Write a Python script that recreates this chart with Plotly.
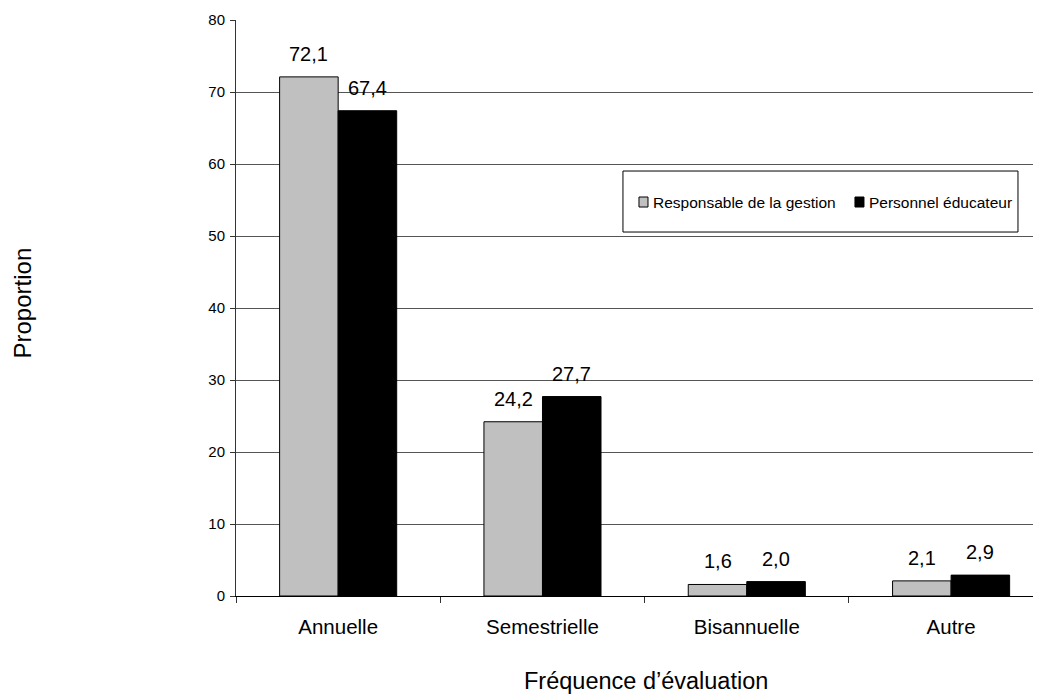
import plotly.graph_objects as go

categories = ['Annuelle', 'Semestrielle', 'Bisannuelle', 'Autre']
gestion = [72.1, 24.2, 1.6, 2.1]
educateur = [67.4, 27.7, 2.0, 2.9]
series_names = ['Responsable de la gestion', 'Personnel éducateur']
series_colors = ['#C0C0C0', '#000000']

font = 'Liberation Sans, Arial, sans-serif'
bargap = 0.427
half = (1 - bargap) / 4   # offset of each bar centre from the category centre


def fmt(v):
    return f'{v:.1f}'.replace('.', ',')


fig = go.Figure()
for name, vals, col in zip(series_names, [gestion, educateur], series_colors):
    fig.add_trace(go.Bar(
        x=categories, y=vals, name=name,
        marker=dict(color=col, line=dict(color='black', width=1))))

# value labels above the bars
annotations = []
for k, vals in enumerate([gestion, educateur]):
    for i, v in enumerate(vals):
        annotations.append(dict(
            x=i + (2 * k - 1) * half, y=v, xref='x', yref='y',
            text=fmt(v), showarrow=False, yanchor='bottom', yshift=10,
            font=dict(size=20, color='black')))

# hand-drawn legend box to match the original spacing
shapes = [dict(type='rect', xref='paper', yref='paper',
               x0=0.4807, x1=0.9714, y0=0.6319, y1=0.7378,
               line=dict(color='black', width=1), fillcolor='white', layer='below')]
legend_x = [0.5006, 0.7689]
for name, col, lx in zip(series_names, series_colors, legend_x):
    shapes.append(dict(type='rect', xref='paper', yref='paper',
                       x0=lx, x1=lx + 0.0112, y0=0.6753, y1=0.6927,
                       line=dict(color='black', width=1), fillcolor=col, layer='above'))
    annotations.append(dict(text=name, xref='paper', yref='paper', x=lx + 0.0145,
                            y=0.684, xanchor='left', yanchor='middle',
                            showarrow=False, font=dict(size=15.5)))

annotations += [
    dict(text='Proportion', xref='paper', yref='paper', x=-0.265, y=0.509,
         xanchor='center', yanchor='middle',
         textangle=-90, showarrow=False, font=dict(size=24)),
    dict(text='Fréquence d’évaluation', xref='paper', yref='paper',
         x=0.509, y=-0.148, xanchor='center', yanchor='middle', showarrow=False,
         font=dict(size=23.5)),
]

fig.update_layout(
    width=1033, height=688,
    margin=dict(l=228, r=0, t=12, b=100),
    plot_bgcolor='white', paper_bgcolor='white',
    barmode='group', bargap=bargap, bargroupgap=0,
    font=dict(family=font, size=15, color='black'),
    showlegend=False,
    xaxis=dict(range=[-0.5, 3.44], showline=True, linecolor='black',
               ticks='outside', tickson='boundaries', ticklen=6, tickcolor='#333333',
               tickfont=dict(size=20.5), ticklabelstandoff=12, showgrid=False),
    yaxis=dict(range=[0, 80], dtick=10, showline=True, linecolor='#333333',
               ticks='outside', ticklen=5, tickcolor='#333333', ticklabelstandoff=2,
               showgrid=True, gridcolor='#555555', gridwidth=1,
               tickfont=dict(size=15), zeroline=False),
    shapes=shapes,
    annotations=annotations,
)

fig.write_html('out.html')
